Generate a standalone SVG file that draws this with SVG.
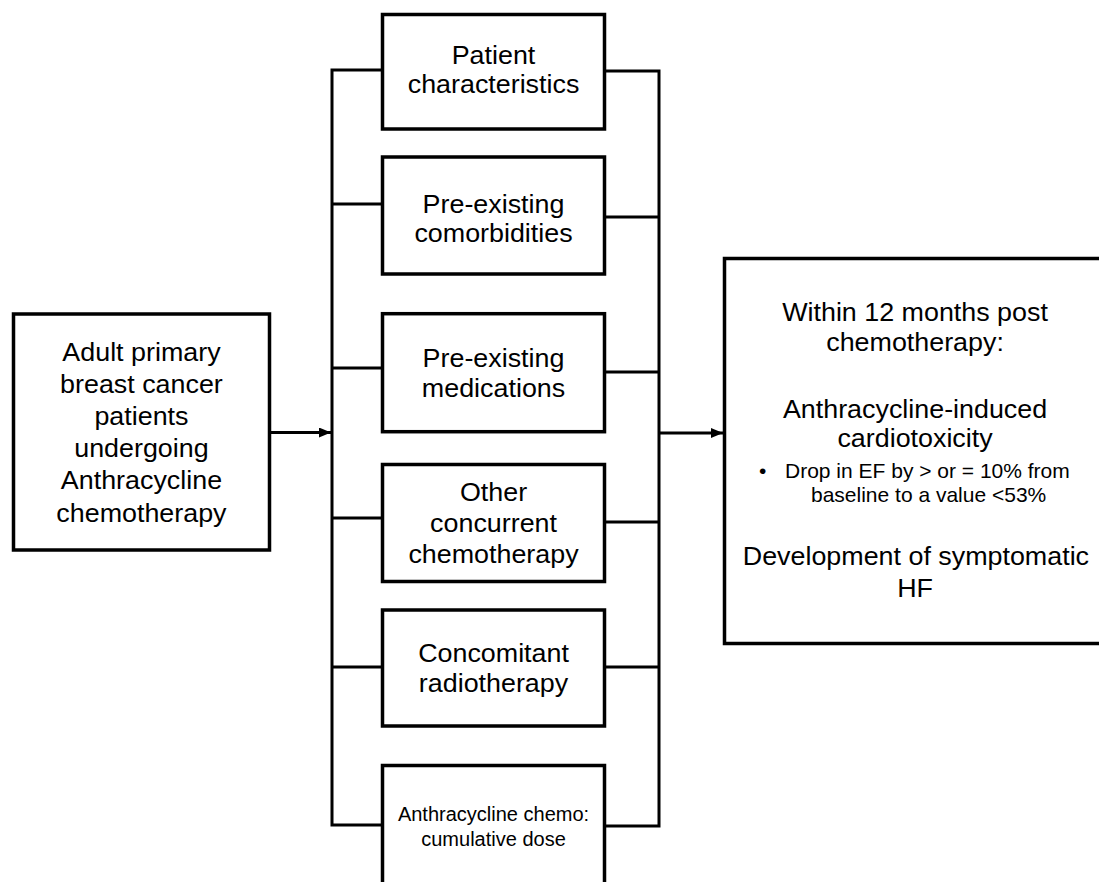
<svg xmlns="http://www.w3.org/2000/svg" width="1099" height="882" viewBox="0 0 1099 882">
<style>
.box{fill:#fff;stroke:#000;stroke-width:3.5}
.ln{fill:none;stroke:#000;stroke-width:3}
.big{font-family:"Liberation Sans",Arial,sans-serif;font-size:25px;fill:#000;text-anchor:middle}
.sm{font-family:"Liberation Sans",Arial,sans-serif;font-size:21px;fill:#000}
.xs{font-family:"Liberation Sans",Arial,sans-serif;font-size:20px;fill:#000;text-anchor:middle}
</style>
<defs>
<marker id="ah" viewBox="0 0 12 10" refX="12" refY="5" markerWidth="12" markerHeight="10" markerUnits="userSpaceOnUse" orient="auto">
<path d="M0,0 L12,5 L0,10 Z" fill="#000"/>
</marker>
</defs>
<rect width="1099" height="882" fill="#fff"/>
<g id="connectors">
<polyline class="ln" points="382,70 332,70 332,825 382,825"/>
<line class="ln" x1="332" y1="204" x2="382" y2="204"/>
<line class="ln" x1="332" y1="368" x2="382" y2="368"/>
<line class="ln" x1="332" y1="518" x2="382" y2="518"/>
<line class="ln" x1="332" y1="667" x2="382" y2="667"/>
<polyline class="ln" points="605,71 659,71 659,826 605,826"/>
<line class="ln" x1="605" y1="217" x2="659" y2="217"/>
<line class="ln" x1="605" y1="372" x2="659" y2="372"/>
<line class="ln" x1="605" y1="522" x2="659" y2="522"/>
<line class="ln" x1="605" y1="667" x2="659" y2="667"/>
<line class="ln" x1="271" y1="432.5" x2="331" y2="432.5" marker-end="url(#ah)"/>
<line class="ln" x1="659" y1="433" x2="723" y2="433" marker-end="url(#ah)"/>
</g>
<g id="population">
<rect class="box" x="13.5" y="314" width="256" height="236"/>
<g transform="scale(1.075 1)">
<text class="big" x="131.6" y="361">Adult primary</text>
<text class="big" x="131.6" y="393">breast cancer</text>
<text class="big" x="131.6" y="425">patients</text>
<text class="big" x="131.6" y="457">undergoing</text>
<text class="big" x="131.6" y="489">Anthracycline</text>
<text class="big" x="131.6" y="522">chemotherapy</text>
</g>
</g>
<g id="patient">
<rect class="box" x="382.5" y="14.5" width="222" height="114.5"/>
<g transform="scale(1.075 1)">
<text class="big" x="459.1" y="64">Patient</text>
<text class="big" x="459.1" y="93">characteristics</text>
</g>
</g>
<g id="comorbidities">
<rect class="box" x="382.5" y="157" width="222" height="117"/>
<g transform="scale(1.075 1)">
<text class="big" x="459.1" y="213">Pre-existing</text>
<text class="big" x="459.1" y="242">comorbidities</text>
</g>
</g>
<g id="medications">
<rect class="box" x="382.5" y="313.7" width="222" height="118"/>
<g transform="scale(1.075 1)">
<text class="big" x="459.1" y="367">Pre-existing</text>
<text class="big" x="459.1" y="397">medications</text>
</g>
</g>
<g id="chemo">
<rect class="box" x="382.5" y="464.5" width="222" height="117"/>
<g transform="scale(1.075 1)">
<text class="big" x="459.1" y="501">Other</text>
<text class="big" x="459.1" y="532">concurrent</text>
<text class="big" x="459.1" y="563">chemotherapy</text>
</g>
</g>
<g id="radiotherapy">
<rect class="box" x="382.5" y="610" width="222" height="116"/>
<g transform="scale(1.075 1)">
<text class="big" x="459.1" y="662">Concomitant</text>
<text class="big" x="459.1" y="692">radiotherapy</text>
</g>
</g>
<g id="dose">
<rect class="box" x="382.5" y="765.5" width="222" height="130"/>
<text class="xs" x="493.5" y="821">Anthracycline chemo:</text>
<text class="xs" x="493.5" y="846">cumulative dose</text>
</g>
<g id="outcome">
<rect class="box" x="724.5" y="258.5" width="390" height="385"/>
<g transform="scale(1.075 1)">
<text class="big" x="851.2" y="321">Within 12 months post</text>
<text class="big" x="851.2" y="351">chemotherapy:</text>
<text class="big" x="851.2" y="418">Anthracycline-induced</text>
<text class="big" x="851.2" y="447">cardiotoxicity</text>
<text class="big" x="852" y="565">Development of symptomatic</text>
<text class="big" x="851.2" y="597">HF</text>
</g>
<text class="sm" x="759" y="478">•</text>
<text class="sm" x="785" y="478">Drop in EF by &gt; or = 10% from</text>
<text class="sm" x="811" y="502">baseline to a value &lt;53%</text>
</g>
</svg>
